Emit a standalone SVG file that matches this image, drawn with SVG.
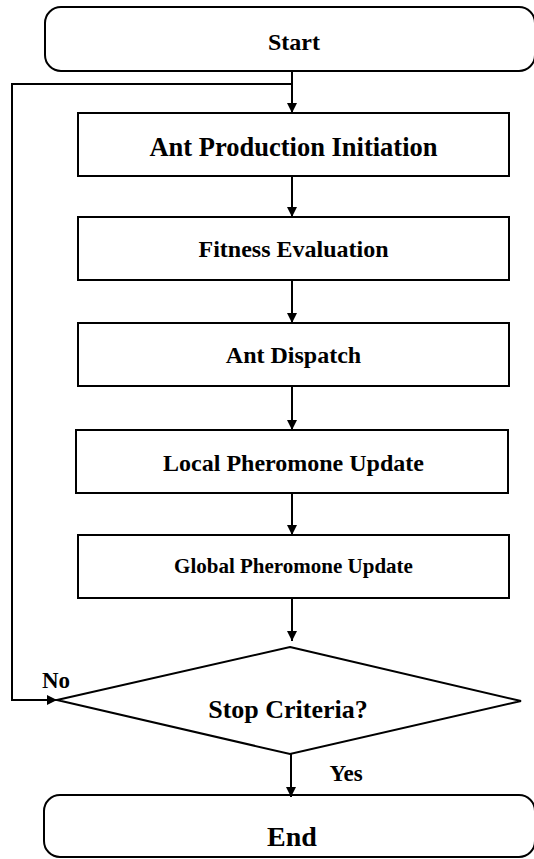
<svg xmlns="http://www.w3.org/2000/svg" width="534" height="859" viewBox="0 0 534 859" font-family="'Liberation Serif', 'DejaVu Serif', serif">
<defs>
<style>
.sh{fill:#fff;stroke:#000;stroke-width:2}
.t{font-family:'Liberation Serif','DejaVu Serif',serif;font-weight:700;fill:#000;text-anchor:middle}
.c{fill:none;stroke:#000;stroke-width:2}
</style>
<marker id="ah" markerWidth="10" markerHeight="10" refX="10" refY="5" orient="auto" markerUnits="userSpaceOnUse">
<path d="M0,0 L10,5 L0,10 Z" fill="#000"/>
</marker>
</defs>
<g id="start"><rect class="sh" x="45" y="7" width="490" height="64" rx="16"/><text class="t" x="294" y="50" font-size="24">Start</text></g>
<g id="n1"><rect class="sh" x="78" y="113" width="431" height="63"/><text class="t" x="293.5" y="156" font-size="26.5">Ant Production Initiation</text></g>
<g id="n2"><rect class="sh" x="78" y="217" width="431" height="63"/><text class="t" x="293.5" y="257" font-size="24">Fitness Evaluation</text></g>
<g id="n3"><rect class="sh" x="78" y="323" width="431" height="63"/><text class="t" x="293.5" y="363" font-size="24">Ant Dispatch</text></g>
<g id="n4"><rect class="sh" x="76" y="430" width="432" height="63"/><text class="t" x="293.5" y="471" font-size="24">Local Pheromone Update</text></g>
<g id="n5"><rect class="sh" x="78" y="535" width="431" height="63"/><text class="t" x="293.5" y="573" font-size="21">Global Pheromone Update</text></g>
<g id="decision"><polygon class="sh" points="290,647 521,701 290,754 57,700"/><text class="t" x="288" y="718" font-size="26">Stop Criteria?</text></g>
<g id="end"><rect class="sh" x="44" y="795" width="491" height="62" rx="16"/><text class="t" x="292" y="846" font-size="28">End</text></g>
<g id="connectors">
<line class="c" x1="292" y1="71" x2="292" y2="113" marker-end="url(#ah)"/>
<line class="c" x1="292" y1="176" x2="292" y2="217" marker-end="url(#ah)"/>
<line class="c" x1="292" y1="280" x2="292" y2="323" marker-end="url(#ah)"/>
<line class="c" x1="292" y1="386" x2="292" y2="430" marker-end="url(#ah)"/>
<line class="c" x1="292" y1="493" x2="292" y2="535" marker-end="url(#ah)"/>
<line class="c" x1="292" y1="598" x2="292" y2="641" marker-end="url(#ah)"/>
<line class="c" x1="291" y1="754" x2="291" y2="797" marker-end="url(#ah)"/>
<polyline class="c" points="292,84 12,84 12,700 57,700" marker-end="url(#ah)"/>
<text class="t" x="56" y="688" font-size="23">No</text>
<text class="t" x="346" y="781" font-size="23">Yes</text>
</g>
</svg>
